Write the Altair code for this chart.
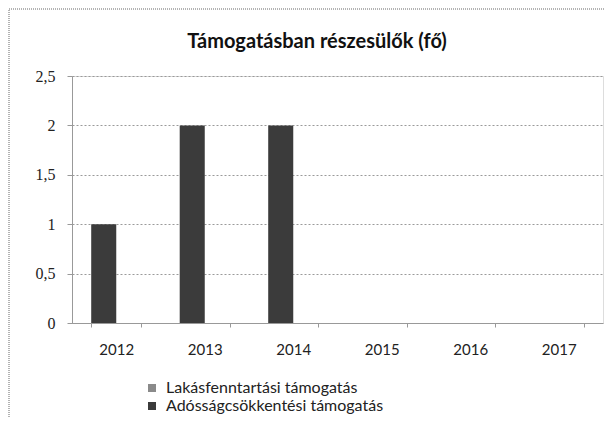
import altair as alt
import pandas as pd

years = ["2012", "2013", "2014", "2015", "2016", "2017"]
lakas = [0, 0, 0, 0, 0, 0]
adossag = [1, 2, 2, 0, 0, 0]
series_names = ["Lakásfenntartási támogatás", "Adósságcsökkentési támogatás"]
colors = ["#8a8a8a", "#3b3b3b"]
title_text = ["Támogatásban részesülők (fő)"]

rows = []
for i, y in enumerate(years):
    rows.append({"year": y, "series": series_names[1], "value": adossag[i], "pos": 0})
    rows.append({"year": y, "series": series_names[0], "value": lakas[i], "pos": 1})
df = pd.DataFrame(rows)

SANS = "Lato"
SERIF = "Liberation Serif"

bars = alt.Chart(df).mark_bar().encode(
    x=alt.X("year:N", sort=years, title=None,
            scale=alt.Scale(paddingInner=0.434, paddingOuter=0.217),
            axis=alt.Axis(labelAngle=0, labelFontSize=15, labelFont=SANS, labelColor="#222",
                          domainColor="#999", tickColor="#999", tickBand="extent",
                          tickSize=4, labelPadding=15, grid=False)),
    xOffset=alt.XOffset("pos:O", scale=alt.Scale(paddingInner=0, paddingOuter=0)),
    y=alt.Y("value:Q", title=None,
            scale=alt.Scale(domain=[0, 2.5]),
            axis=alt.Axis(values=[0, 0.5, 1, 1.5, 2, 2.5],
                          labelExpr="replace(toString(datum.value), '.', ',')",
                          labelFontSize=16, labelFont=SERIF, labelColor="#222",
                          domainColor="#999", tickColor="#999", tickSize=5,
                          labelPadding=12, gridColor="#9a9a9a", gridDash=[2, 2])),
    color=alt.Color("series:N", sort=series_names,
                    scale=alt.Scale(domain=series_names, range=colors),
                    legend=alt.Legend(title=None, orient="none", legendX=72, legendY=304,
                                      symbolType="square", symbolSize=64,
                                      labelFontSize=16, labelFont=SANS, labelColor="#222",
                                      labelLimit=0, labelOffset=6,
                                      rowPadding=2, symbolStrokeWidth=0)),
)

frame = alt.Chart(pd.DataFrame({"a": [0]})).mark_rect(
    fill="transparent", stroke="#9a9a9a", strokeWidth=1.5, strokeDash=[1, 1]
).encode(x=alt.value(-63), x2=alt.value(560), y=alt.value(-67), y2=alt.value(360))

title = alt.Chart(pd.DataFrame({"t": title_text})).mark_text(
    font=SANS, fontSize=20, fontWeight="bold", color="#111",
    align="center", baseline="alphabetic"
).encode(text="t:N", x=alt.value(245), y=alt.value(-28))

chart = alt.layer(frame, bars, title).properties(
    width=531, height=247,
    autosize=alt.AutoSizeParams(type="none"),
    padding={"left": 64, "top": 68, "right": 2, "bottom": 94},
).configure_view(stroke=None).configure(background="white")

chart.save("out.html", embed_options={"renderer": "svg", "actions": False})
